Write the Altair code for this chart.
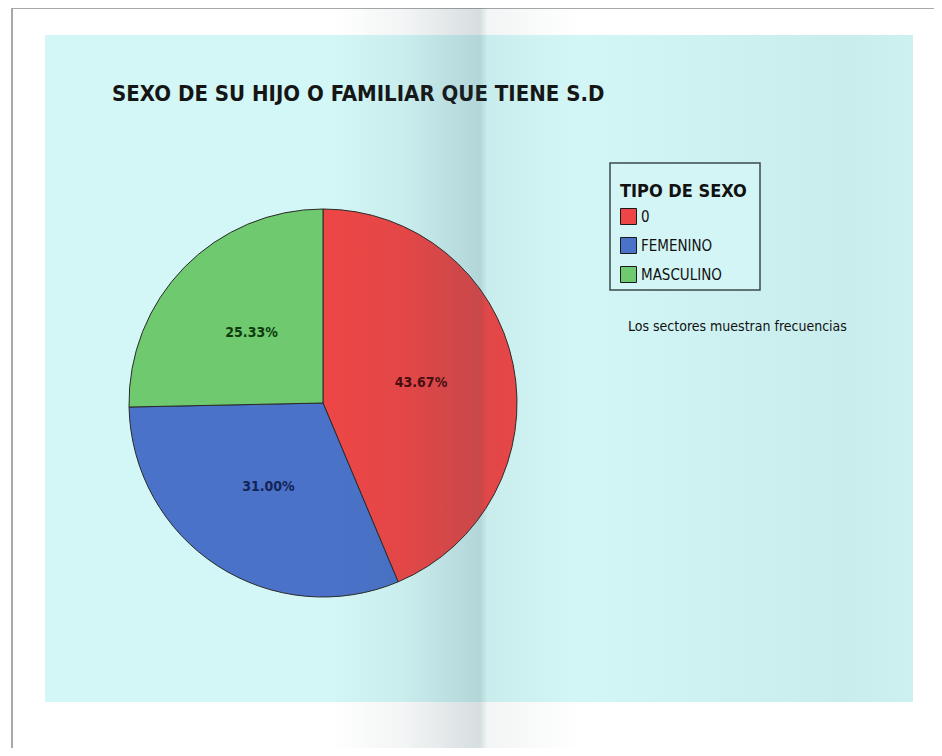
import altair as alt
import pandas as pd

# ---- data ----
categories = ["0", "FEMENINO", "MASCULINO"]
percentages = [43.67, 31.00, 25.33]
slice_colors = ["#ee4646", "#4a72c8", "#6fca6f"]
label_colors = ["#4a0808", "#142456", "#0e3a0e"]
title_text = "SEXO DE SU HIJO O FAMILIAR QUE TIENE S.D"
legend_title = "TIPO DE SEXO"
note_text = "Los sectores muestran frecuencias"

df = pd.DataFrame({
    "cat": categories,
    "pct": percentages,
    "idx": list(range(len(categories))),
    "label": [f"{v:.2f}%" for v in percentages],
})

FONT = "DejaVu Sans Condensed, Liberation Sans, sans-serif"
one = alt.Data(values=[{"k": 1}])

W, H = 926, 740
CX, CY, R = 315, 395, 194

# page (white sheet)
page = alt.Chart(one).mark_rect(fill="white", stroke="#a8a8a8", strokeWidth=2).encode(
    x=alt.value(4), x2=alt.value(940), y=alt.value(0), y2=alt.value(745)
)

# cyan panel
panel_grad = alt.LinearGradient(
    gradient="linear", x1=0, x2=1, y1=0, y2=0,
    stops=[
        alt.GradientStop(offset=0.0, color="#d3f6f6"),
        alt.GradientStop(offset=0.6, color="#d3f6f6"),
        alt.GradientStop(offset=0.92, color="#c9eded"),
        alt.GradientStop(offset=1.0, color="#cdf0f0"),
    ],
)
panel = alt.Chart(one).mark_rect(color=panel_grad).encode(
    x=alt.value(37), x2=alt.value(905), y=alt.value(27), y2=alt.value(694)
)

# legend box
legend_box = alt.Chart(one).mark_rect(fill="#d4f5f5", stroke="#3a4a4a", strokeWidth=1.5).encode(
    x=alt.value(602), x2=alt.value(752), y=alt.value(155), y2=alt.value(282)
)

arcs = alt.Chart(df).mark_arc(radius=R, stroke="#2a2a2a", strokeWidth=1).encode(
    theta=alt.Theta("pct:Q", stack=True),
    color=alt.Color(
        "cat:N",
        sort=categories,
        scale=alt.Scale(domain=categories, range=slice_colors),
        legend=alt.Legend(
            title=legend_title,
            orient="none",
            legendX=612,
            legendY=175,
            padding=0,
            titleFont=FONT,
            titleFontSize=18,
            titleFontWeight="bold",
            titleColor="#111111",
            titlePadding=7,
            labelFont=FONT,
            labelFontSize=15,
            labelColor="#111111",
            labelOffset=4,
            symbolType="square",
            symbolSize=256,
            symbolStrokeColor="#1a1a1a",
            symbolStrokeWidth=1,
            symbolOpacity=1,
            rowPadding=8,
        ),
    ),
    order=alt.Order("idx:Q"),
    x=alt.value(CX),
    y=alt.value(CY),
)

labels = alt.Chart(df).mark_text(
    radius=100, font=FONT, fontSize=14, fontWeight="bold"
).encode(
    theta=alt.Theta("pct:Q", stack=True),
    text="label:N",
    color=alt.Color("cat:N", sort=categories,
                    scale=alt.Scale(domain=categories, range=label_colors), legend=None),
    order=alt.Order("idx:Q"),
    x=alt.value(CX),
    y=alt.value(CY),
)

title = alt.Chart(one).mark_text(
    text=title_text, font=FONT, fontSize=22, fontWeight="bold", color="#151515",
    align="left", baseline="alphabetic"
).encode(x=alt.value(104), y=alt.value(93))

note = alt.Chart(one).mark_text(
    text=note_text, font=FONT, fontSize=14, color="#111111",
    align="left", baseline="middle"
).encode(x=alt.value(620), y=alt.value(319))

# book fold shading overlay
fold_grad = alt.LinearGradient(
    gradient="linear", x1=0, x2=1, y1=0, y2=0,
    stops=[
        alt.GradientStop(offset=0.0, color="rgba(40,80,90,0)"),
        alt.GradientStop(offset=0.3, color="rgba(40,80,90,0.06)"),
        alt.GradientStop(offset=0.6, color="rgba(40,80,90,0.19)"),
        alt.GradientStop(offset=0.63, color="rgba(40,80,90,0.06)"),
        alt.GradientStop(offset=0.8, color="rgba(40,80,90,0.03)"),
        alt.GradientStop(offset=1.0, color="rgba(40,80,90,0)"),
    ],
)
fold = alt.Chart(one).mark_rect(color=fold_grad).encode(
    x=alt.value(322), x2=alt.value(572), y=alt.value(0), y2=alt.value(745)
)

chart = alt.layer(
    page, panel, legend_box, arcs, labels, title, note, fold
).resolve_scale(color="independent").properties(
    width=W, height=H, autosize=alt.AutoSizeParams(type="none"), padding=0
).configure_view(stroke=None)

chart.save("out.html", embed_options={"renderer": "svg", "actions": False})
